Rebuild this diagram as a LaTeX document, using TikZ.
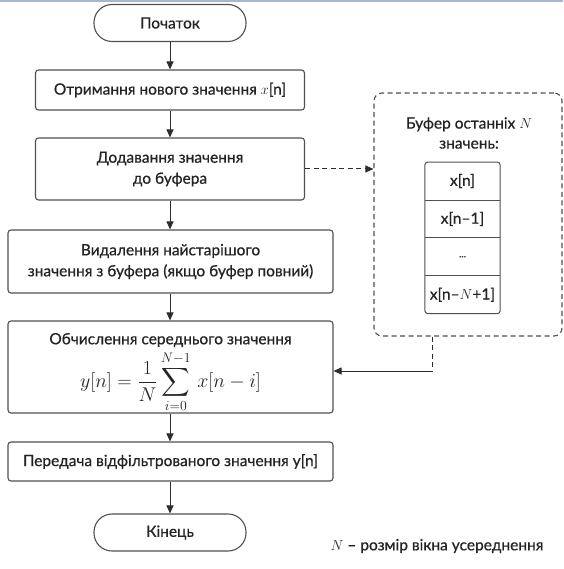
\documentclass[tikz,border=0pt]{standalone}
\usepackage{exscale}
\usepackage[no-math]{fontspec}
\setmainfont{Lato}[FakeBold=0.6]
\usetikzlibrary{arrows.meta,positioning}

\definecolor{edge}{RGB}{80,80,80}
\definecolor{ink}{RGB}{35,35,35}
\definecolor{wire}{RGB}{45,45,45}
\definecolor{topline}{RGB}{165,182,215}

\tikzset{
  every node/.style={text=ink, font=\fontsize{15.5}{18}\selectfont},
  terminal/.style={draw=edge, line width=1.1pt, fill=white, rounded corners=18pt,
    minimum width=152pt, minimum height=37pt, inner sep=0pt},
  process/.style={draw=edge, line width=1.1pt, fill=white, rounded corners=3pt,
    minimum width=269pt, inner sep=0pt, align=center},
  wideproc/.style={process, minimum width=325pt},
  tight/.style={inner sep=0pt},
  bufframe/.style={draw=edge, line width=1.1pt, dash pattern=on 5pt off 3.5pt,
    rounded corners=8pt, minimum width=188pt, minimum height=243pt, inner sep=0pt},
  cell/.style={minimum width=75pt, minimum height=37.5pt, inner sep=0pt},
  flow/.style={draw=wire, line width=1pt, -{Triangle[length=8pt,width=7pt]}},
  dashflow/.style={flow, dash pattern=on 5pt off 3.5pt},
  dashline/.style={draw=wire, line width=1pt, dash pattern=on 5pt off 3.5pt},
}

\begin{document}
\begin{tikzpicture}[x=1pt,y=-1pt]
  \useasboundingbox (0,0) rectangle (563,569);
  \fill[white] (0,0) rectangle (563,569);
  \fill[topline] (0,0) rectangle (563,2);

  % main flow
  \node[terminal] (start) at (170,23) {Початок};
  \node[process, minimum height=40pt] (recv) at (170,90)
    {Отримання нового значення $x$[n]};
  \node[process, minimum height=62pt] (add) at (170,169)
    {Додавання значення\\[3pt]до буфера};
  \node[wideproc, minimum height=63pt] (del) at (170.5,261.5)
    {Видалення найстарішого\\[3pt]значення з буфера (якщо буфер повний)};
  \node[wideproc, minimum height=92pt] (avg) at (170.5,367) {};
  \node[tight] (avgtitle) at (170.5,340) {Обчислення середнього значення};
  \node[tight] (avgformula) at (170.5,382)
    {\fontsize{17.28}{20}\selectfont
     \scalebox{1.15}{$\displaystyle y[n]=\frac{1}{N}\sum_{i=0}^{N-1}\,x[n-i]$}};
  \node[wideproc, minimum height=39pt] (send) at (170.5,461.5)
    {Передача відфільтрованого значення y[n]};
  \node[terminal] (finish) at (170,532.5) {Кінець};

  \draw[flow] (start.south) -- (recv.north);
  \draw[flow] (recv.south) -- (add.north);
  \draw[flow] (add.south) -- (del.north -| add.south);
  \draw[flow] (del.south -| add.south) -- (avg.north -| add.south);
  \draw[flow] (avg.south -| add.south) -- (send.north -| add.south);
  \draw[flow] (send.south -| add.south) -- (finish.north);

  % buffer of the last N values
  \node[bufframe] (buf) at (468,214.5) {};
  \node[align=center] (buftitle) at (469,133)
    {Буфер останніх $N$\\[2pt]значень:};
  \node[cell] (c1) at (462.5,181) {x[n]};
  \node[cell, below=0pt of c1] (c2) {x[n–1]};
  \node[cell, below=0pt of c2] (c3) {\fontsize{10}{12}\selectfont ...};
  \node[cell, below=0pt of c3] (c4) {x[n–$N$+1]};
  \draw[edge, line width=1pt, rounded corners=3pt]
    (c1.north west) rectangle (c4.south east);
  \draw[edge, line width=0.9pt] (c1.south west) -- (c1.south east);
  \draw[edge, line width=0.9pt] (c2.south west) -- (c2.south east);
  \draw[edge, line width=0.9pt] (c3.south west) -- (c3.south east);

  % connections with the buffer
  \draw[dashflow] (add.east) -- (add.east -| buf.west);
  \coordinate (fb) at (432,371);
  \draw[dashline] (buf.south -| fb) -- (fb);
  \draw[flow] (fb) -- (fb -| avg.east);

  % note
  \node (note) at (437,546) {$N$ – розмір вікна усереднення};
\end{tikzpicture}
\end{document}
